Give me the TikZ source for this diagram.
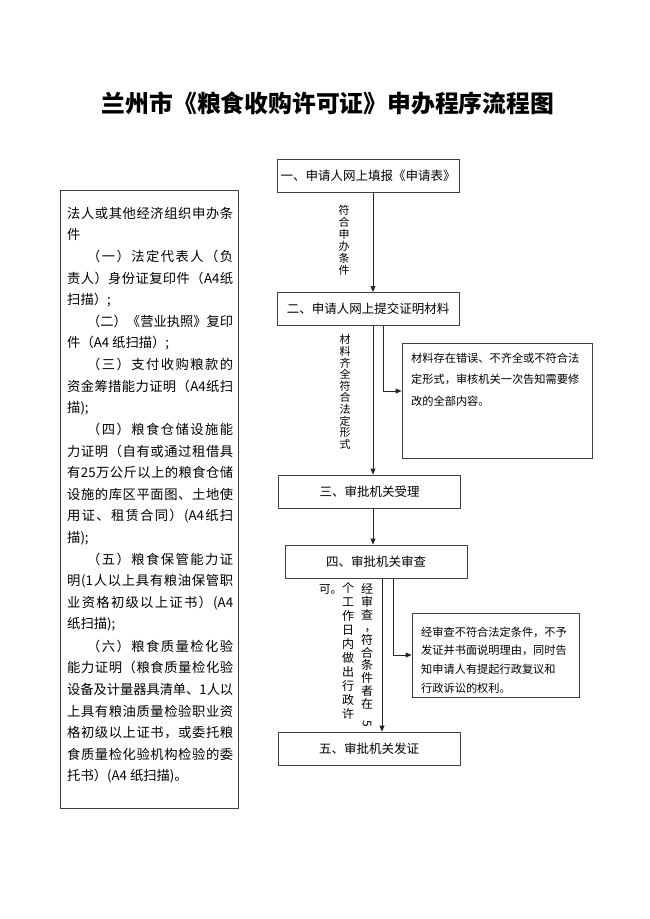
\documentclass[tikz,border=0pt]{standalone}
\usepackage{fontspec}
\setmainfont{Noto Sans CJK SC}
\usepackage{graphicx}
\usetikzlibrary{arrows.meta}
\def\myend{\myend}
\def\spreadchars#1{#1\spreadrest}
\def\spreadrest#1{\def\tmparg{#1}\ifx\tmparg\myend\else\hfil#1\expandafter\spreadrest\fi}
\newcommand{\J}[2][0pt]{\sbox0{\hspace*{#1}#2}\ifdim\wd0>166pt\relax\resizebox{166pt}{\height}{\usebox0}\else\hbox to 166pt{\hspace*{#1}\spreadchars#2\myend}\fi}
\begin{document}
\begin{tikzpicture}[x=1pt,y=-1pt,
  box/.style={draw=black!75, line width=0.8pt, inner sep=0pt},
  flowbox/.style={box, minimum width=182pt, minimum height=33pt, font=\fontsize{12.5}{14}\selectfont},
  arr/.style={draw=black!85, line width=0.8pt, -{Triangle[length=6pt,width=5pt]}},
  vt/.style={align=center, inner sep=0pt},
  lline/.style={anchor=west, inner sep=0pt, font=\fontsize{13.3}{15}\selectfont},
  sidetext/.style={anchor=north west, align=left, inner sep=0pt}
]
\useasboundingbox (0,0) rectangle (650,919);

% title
\node[inner sep=0pt, font=\fontsize{23.8}{25}\selectfont\bfseries] (title) at (328,103) {兰州市《粮食收购许可证》申办程序流程图};

% left box
\node[box, minimum width=178pt, minimum height=618pt] (left) at (149,499) {};
\foreach \t [count=\i] in {
{\J{法人或其他经济组织申办条}},
{件},
{\J[20pt]{（一）法定代表人（负}},
{\J{责人）身份证复印件（{A4}纸}},
{扫描）;},
{\J[20pt]{（二）《营业执照》复印}},
{件（A4 纸扫描）;},
{\J[20pt]{（三）支付收购粮款的}},
{\J{资金筹措能力证明（{A4}纸扫}},
{描);},
{\J[20pt]{（四）粮食仓储设施能}},
{\J{力证明（自有或通过租借具}},
{\J{有{25}万公斤以上的粮食仓储}},
{\J{设施的库区平面图、土地使}},
{\J{用证、租赁合同）{(A4}纸扫}},
{描);},
{\J[20pt]{（五）粮食保管能力证}},
{\J{明{(1}人以上具有粮油保管职}},
{\J{业资格初级以上证书）{(A4}}},
{纸扫描);},
{\J[20pt]{（六）粮食质量检化验}},
{\J{能力证明（粮食质量检化验}},
{\J{设备及计量器具清单、{1}人以}},
{\J{上具有粮油质量检验职业资}},
{\J{格初级以上证书，或委托粮}},
{\J{食质量检化验机构检验的委}},
{托书）(A4 纸扫描)。}}
{
  \node[lline] (L\i) at (67,{213+21.65*(\i-1)}) {\t};
}

% flow boxes
\node[flowbox] (b1) at (368,175.5) {一、申请人网上填报《申请表》};
\node[flowbox] (b2) at (368,309) {二、申请人网上提交证明材料};
\node[flowbox] (b3) at (369.5,491.5) {三、审批机关受理};
\node[flowbox] (b4) at (376,561.5) {四、审批机关审查};
\node[flowbox] (b5) at (369,748.5) {五、审批机关发证};

% side boxes
\node[box, minimum width=190pt, minimum height=115pt] (s1) at (497,400.5) {};
\node[sidetext, font=\fontsize{11.2}{21.5}\selectfont] (s1t) at (411,352.4)
  {材料存在错误、不齐全或不符合法\\定形式，审核机关一次告知需要修\\改的全部内容。};
\node[box, minimum width=167pt, minimum height=84pt] (s2) at (495.5,655) {};
\node[sidetext, font=\fontsize{11.2}{18.7}\selectfont] (s2t) at (421,626.4)
  {经审查不符合法定条件，不予\\发证并书面说明理由，同时告\\知申请人有提起行政复议和\\行政诉讼的权利。};

% vertical labels
\node[vt, font=\fontsize{11}{12}\selectfont] (v1) at (344,240) {符\\合\\申\\办\\条\\件};
\node[vt, font=\fontsize{11}{11.6}\selectfont] (v2) at (345,392) {材\\料\\齐\\全\\符\\合\\法\\定\\形\\式};
\node[vt, font=\fontsize{12}{12.7}\selectfont] (v3a) at (367,655.5) {经\\审\\查\\\hspace*{7pt}，\\符\\合\\条\\件\\者\\在\\\rotatebox{-90}{5}};
\node[vt, font=\fontsize{12}{14}\selectfont] (v3b) at (348,651) {个\\工\\作\\日\\内\\做\\出\\行\\政\\许};
\node[anchor=west, inner sep=0pt, font=\fontsize{11.5}{14}\selectfont] (v3c) at (319,590) {可。};

% connectors
\coordinate (xa) at (373,0);
\coordinate (xb) at (382,0);
\coordinate (br1) at (383,391);
\coordinate (br2) at (393,655);
\draw[arr] (b1.south -| xa) -- (b2.north -| xa);
\draw[arr] (b2.south -| xa) -- (b3.north -| xa);
\draw[arr] (b2.south -| br1) |- (s1.west |- br1);
\draw[arr] (b3.south -| xa) -- (b4.north -| xa);
\draw[arr] (b4.south -| xb) -- (b5.north -| xb);
\draw[arr] (b4.south -| br2) |- (s2.west |- br2);
\end{tikzpicture}
\end{document}
